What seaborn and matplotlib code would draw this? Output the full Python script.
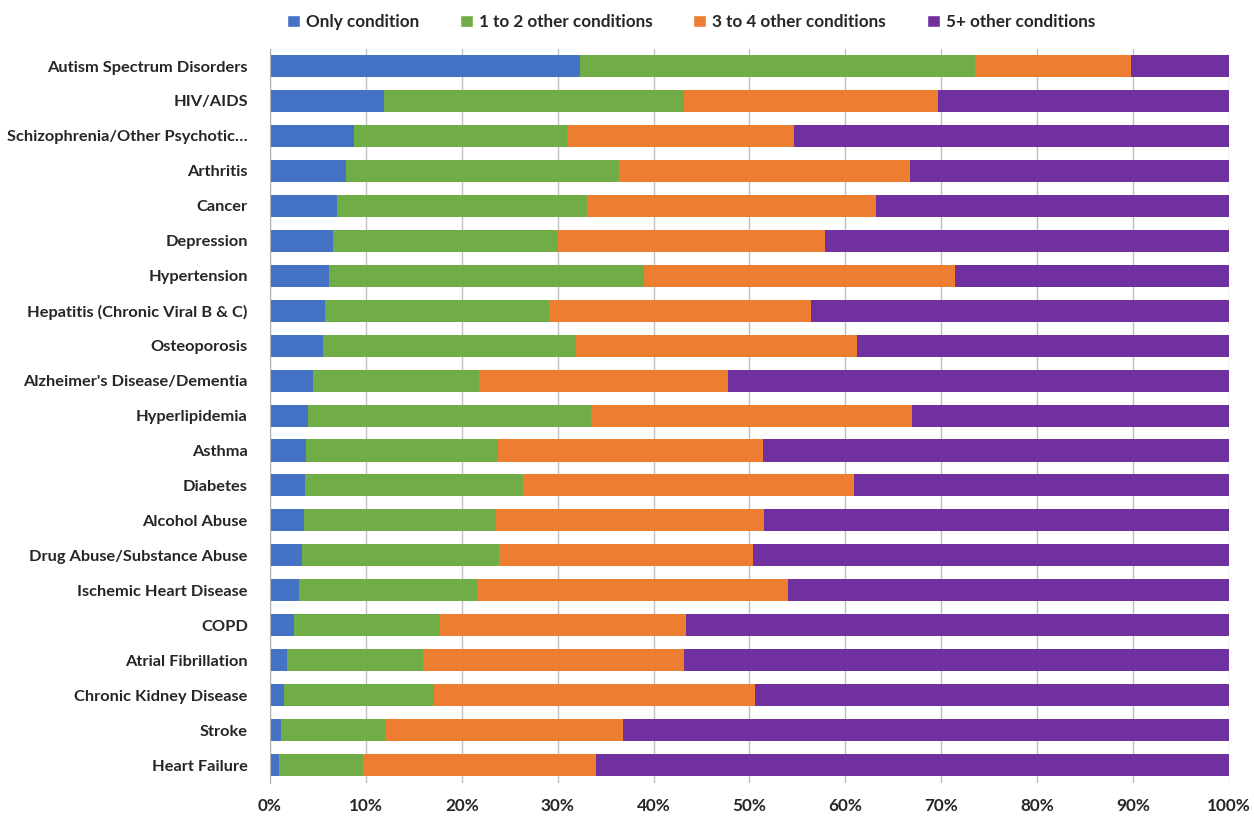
import numpy as np
import pandas as pd
import matplotlib
matplotlib.use("Agg")
import matplotlib.pyplot as plt
import seaborn as sns
from matplotlib.patches import Patch
from matplotlib.ticker import PercentFormatter

conditions = [
    "Autism Spectrum Disorders", "HIV/AIDS", "Schizophrenia/Other Psychotic\u2026",
    "Arthritis", "Cancer", "Depression", "Hypertension",
    "Hepatitis (Chronic Viral B & C)", "Osteoporosis",
    "Alzheimer's Disease/Dementia", "Hyperlipidemia", "Asthma", "Diabetes",
    "Alcohol Abuse", "Drug Abuse/Substance Abuse", "Ischemic Heart Disease",
    "COPD", "Atrial Fibrillation", "Chronic Kidney Disease", "Stroke",
    "Heart Failure",
]

# share of beneficiaries (%) per comorbidity group
only_cond = [32.3, 11.9, 8.8, 7.9, 7.0, 6.6, 6.2, 5.7, 5.5, 4.5, 4.0,
             3.8, 3.6, 3.5, 3.3, 3.0, 2.5, 1.8, 1.5, 1.1, 0.9]
one_two = [41.2, 31.3, 22.2, 28.5, 26.1, 23.4, 32.8, 23.4, 26.4, 17.3, 29.5,
           20.0, 22.8, 20.1, 20.6, 18.6, 15.2, 14.2, 15.6, 10.9, 8.8]
three_four = [16.3, 26.5, 23.6, 30.3, 30.1, 27.9, 32.4, 27.3, 29.3, 26.0, 33.5,
              27.6, 34.5, 27.9, 26.5, 32.4, 25.7, 27.2, 33.5, 24.8, 24.3]
five_plus = [10.2, 30.3, 45.4, 33.3, 36.8, 42.1, 28.6, 43.6, 38.8, 52.2, 33.0,
             48.6, 39.1, 48.5, 49.6, 46.0, 56.6, 56.8, 49.4, 63.2, 66.0]

series = ["Only condition", "1 to 2 other conditions",
          "3 to 4 other conditions", "5+ other conditions"]
colors = ["#4472C4", "#70AD47", "#ED7D31", "#7030A0"]

df = pd.DataFrame({
    "condition": conditions,
    series[0]: only_cond,
    series[1]: one_two,
    series[2]: three_four,
    series[3]: five_plus,
})
cum = df[series].cumsum(axis=1)
cum = cum.div(cum[series[-1]], axis=0) * 100
cum["condition"] = df["condition"]

sns.set_style("white")
plt.rcParams["font.family"] = ["Lato", "DejaVu Sans"]
plt.rcParams["font.weight"] = "bold"

fig = plt.figure(figsize=(12.54, 8.16), dpi=100)
ax = fig.add_axes([0.2153, 0.041, 0.7647, 0.8995])

# draw from the widest (cumulative) segment down so each stacks visually
for s, c in zip(series[::-1], colors[::-1]):
    sns.barplot(data=cum, y="condition", x=s, color=c, orient="h",
                width=0.63, saturation=1, ax=ax, linewidth=0)

ax.set_xlim(0, 100)
ax.set_ylim(len(conditions) - 0.5, -0.5)
ax.xaxis.set_major_formatter(PercentFormatter(decimals=0))
ax.set_xticks(np.arange(0, 101, 10))
ax.set_xlabel("")
ax.set_ylabel("")
ax.grid(axis="x", color="#c0c0c0", linewidth=1)
ax.set_axisbelow(True)
for side in ["top", "right", "bottom"]:
    ax.spines[side].set_visible(False)
ax.spines["left"].set_color("#b0b0b0")
ax.tick_params(axis="y", length=0, pad=16, labelsize=11.8)
ax.tick_params(axis="x", length=0, pad=11, labelsize=12.3)
for lab in ax.get_xticklabels() + ax.get_yticklabels():
    lab.set_fontweight("bold")

handles = [Patch(facecolor=c, label=s) for s, c in zip(series, colors)]
fig.legend(handles=handles, loc="center", bbox_to_anchor=(0.551, 0.973),
           ncol=4, frameon=False, handlelength=0.75, handleheight=0.75,
           handletextpad=0.35, columnspacing=2.4,
           prop={"weight": "bold", "size": 12.3})

fig.savefig("out.png", dpi=100)
